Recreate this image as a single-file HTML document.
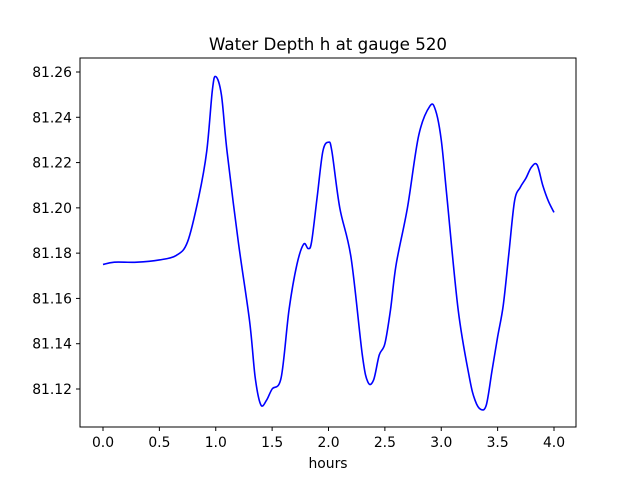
<!DOCTYPE html>
<html><head><meta charset="utf-8"><style>
body{margin:0;background:#fff;}
svg{display:block;font-family:"DejaVu Sans","Liberation Sans",sans-serif;}
</style></head><body>
<svg id="chart" width="640" height="480">
<rect width="640" height="480" fill="#fff"/>
<text x="328" y="50" font-size="16.7" text-anchor="middle">Water Depth h at gauge 520</text>
<g id="ticks"></g>
<path id="line" fill="none" stroke="#0000ff" stroke-width="1.6"/>
<rect x="80" y="58" width="496" height="369" fill="none" stroke="#000" stroke-width="1"/>
<text x="328" y="468" font-size="13.9" text-anchor="middle">hours</text>
</svg>
<script>
const hours=[0,0.1,0.3,0.5,0.65,0.75,0.85,0.92,0.97,1.0,1.05,1.1,1.2,1.3,1.35,1.4,1.45,1.5,1.58,1.65,1.72,1.78,1.82,1.85,1.9,1.95,2.0,2.03,2.1,2.2,2.3,2.35,2.4,2.45,2.5,2.55,2.6,2.7,2.8,2.9,2.95,3.0,3.05,3.15,3.25,3.3,3.35,3.4,3.45,3.5,3.55,3.6,3.65,3.7,3.75,3.8,3.85,3.9,3.95,4.0];
const depth=[81.175,81.176,81.176,81.177,81.179,81.185,81.205,81.225,81.252,81.258,81.25,81.225,81.185,81.15,81.125,81.113,81.115,81.12,81.125,81.155,81.175,81.184,81.182,81.185,81.205,81.225,81.229,81.225,81.2,81.178,81.135,81.123,81.124,81.135,81.14,81.155,81.175,81.2,81.232,81.245,81.243,81.23,81.205,81.155,81.125,81.115,81.111,81.113,81.128,81.143,81.157,81.18,81.203,81.209,81.213,81.218,81.219,81.21,81.203,81.198];
const xTicks=[0,0.5,1,1.5,2,2.5,3,3.5,4];
const yTicks=[81.12,81.14,81.16,81.18,81.20,81.22,81.24,81.26];
const NS="http://www.w3.org/2000/svg";
function X(v){return 103+v*112.75;}
function Y(v){return 389-(v-81.12)/0.14*317;}
const g=document.getElementById('ticks');
function mk(t,a){const e=document.createElementNS(NS,t);for(const k in a)e.setAttribute(k,a[k]);g.appendChild(e);return e;}
xTicks.forEach(v=>{
 const l=mk('line',{x1:X(v),x2:X(v),y1:427,y2:431,stroke:'#000'});
 
 
 const t=mk('text',{x:X(v),y:447,'font-size':13.9,'text-anchor':'middle'});
 t.textContent=v.toFixed(1);
 
 
});
yTicks.forEach(v=>{
 const l=mk('line',{x1:76,x2:80,y1:Y(v),y2:Y(v),stroke:'#000'});
 
 
 const t=mk('text',{x:72,y:Y(v)+5,'font-size':13.9,'text-anchor':'end'});
 t.textContent=v.toFixed(2);
 
 
});
const P=hours.map((h,i)=>[X(h),Y(depth[i])]);
let d='M'+P[0][0]+','+P[0][1];
for(let i=0;i<P.length-1;i++){
 const p0=P[Math.max(0,i-1)],p1=P[i],p2=P[i+1],p3=P[Math.min(P.length-1,i+2)];
 const c1=[p1[0]+(p2[0]-p0[0])/6,p1[1]+(p2[1]-p0[1])/6];
 const c2=[p2[0]-(p3[0]-p1[0])/6,p2[1]-(p3[1]-p1[1])/6];
 d+=' C'+c1+' '+c2+' '+p2;
}
document.getElementById('line').setAttribute('d',d);
</script>
</body></html>
